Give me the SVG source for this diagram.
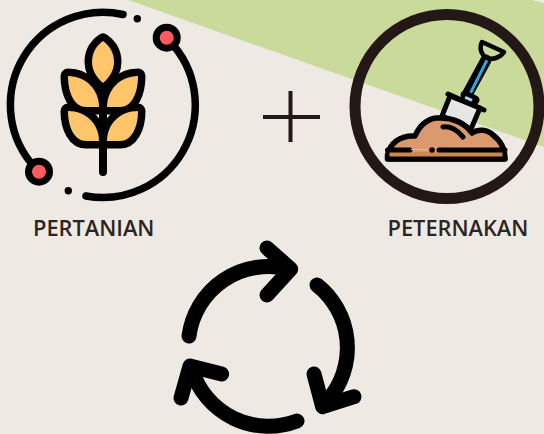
<svg xmlns="http://www.w3.org/2000/svg" width="544" height="434" viewBox="0 0 544 434">
<style>
.k{fill:none;stroke:#000;stroke-linecap:round;stroke-linejoin:round}
.leafout{fill:#000;stroke:#000;stroke-width:15;stroke-linejoin:round}
.leaffill{fill:#ffc56b}
.lbl{font-family:"Open Sans",sans-serif;font-weight:600;font-size:21.800px;fill:#2b2422}
.dark{fill:none;stroke:#231815}
.red{fill:#ff5a5f;stroke:#000;stroke-width:7}
</style>
<defs>
<g id="leaves">
<path d="M103,41 C96,46 92,53 92,62 C92,70 96,77 103,83 C110,77 114,70 114,62 C114,53 110,46 103,41 Z"/>
<path d="M68,76 C86,76 99,90 99,107 H86 C75,107 68,94 68,76 Z"/>
<path d="M138,76 C120,76 107,90 107,107 H120 C131,107 138,94 138,76 Z"/>
<path d="M68,111 C86,111 99,124 99,141 H86 C75,141 68,128 68,111 Z"/>
<path d="M138,111 C120,111 107,124 107,141 H120 C131,141 138,128 138,111 Z"/>
</g>
</defs>
<rect width="544" height="434" fill="#eeeae3"/>
<polygon points="128,0 532,0 544,3 544,147" fill="#c9da9b"/>
<g id="pertanian">
<path class="k" stroke-width="7.500" d="M123,14.500 A92.500,92.500 0 0 0 31,163"/>
<path class="k" stroke-width="7.500" d="M174,46 A92.500,92.500 0 0 1 86,196"/>
<circle class="red" cx="166.700" cy="37.700" r="10.500"/>
<circle class="red" cx="39" cy="171.700" r="10.500"/>
<circle cx="137.300" cy="18.700" r="3.700"/>
<circle cx="68.300" cy="190.700" r="3.700"/>
<path class="k" stroke-width="8" d="M103,84 V172"/>
<use href="#leaves" class="leafout"/>
<use href="#leaves" class="leaffill"/>
<text class="lbl" x="33" y="235.500">PERTANIAN</text>
</g>
<g id="plus">
<path class="dark" stroke-width="4" d="M263,117 H320 M290.500,91 V142"/>
</g>
<g id="peternakan">
<circle class="dark" cx="447" cy="106.500" r="92" stroke-width="11"/>
<path class="k" stroke-width="11" d="M468,93 L486,60"/>
<path fill="none" stroke="#29a9e0" stroke-width="3" d="M470.500,93 L487,60"/>
<path class="k" stroke-width="4.500" d="M482,42 L504,52 C500,58 492,60 487,58 C481,55 479,48 482,42 Z"/>
<path fill="#e6e6e6" stroke="#000" stroke-width="5" stroke-linejoin="round" d="M450,96 L442,116 L471,129 L480,108 Z"/>
<path class="k" stroke-width="9" d="M465,95 L475,100"/>
<path fill="none" stroke="#9fd8d8" stroke-width="3.500" d="M465,97.500 L472,100.500"/>
<path class="k" stroke-width="5" d="M448,94 L484,110"/>
<path fill="#da9a6d" stroke="#000" stroke-width="5.500" stroke-linejoin="round" d="M387.500,159 V155 C390,144 399,135 415,136 C420,124 430,117.500 438,118 C452,117 465,123 472,133 C478,129 487,129 493,135 C501,141 505,149 505,159 Z"/>
<rect x="389.500" y="152" width="113" height="5" fill="#d0874f"/>
<path class="k" stroke-width="5" d="M387.500,159 H505 M387.500,150 H410 M439,150 H505"/>
<path fill="none" stroke="#eab78f" stroke-width="1" d="M411,149.500 H428"/>
<circle cx="432" cy="150" r="2.800"/>
<path class="k" stroke-width="5" d="M443,127 C450,126 458,130 463,137"/>
<text class="lbl" x="387.500" y="235.500">PETERNAKAN</text>
</g>
<g id="connectors">
<path class="k" stroke-width="15" d="M189,336 A80,80 0 0 1 288,269"/>
<path class="k" stroke-width="15" d="M267,248 L290.700,269 L267,295"/>
<path class="k" stroke-width="15" d="M317,285 A80,80 0 0 1 328,400"/>
<path class="k" stroke-width="15" d="M314,374 L322.700,406.700 L354,396.700"/>
<path class="k" stroke-width="15" d="M297,421 A80,80 0 0 1 192,370"/>
<path class="k" stroke-width="15" d="M221.700,374 L190,366 L181,398"/>
</g>
</svg>
